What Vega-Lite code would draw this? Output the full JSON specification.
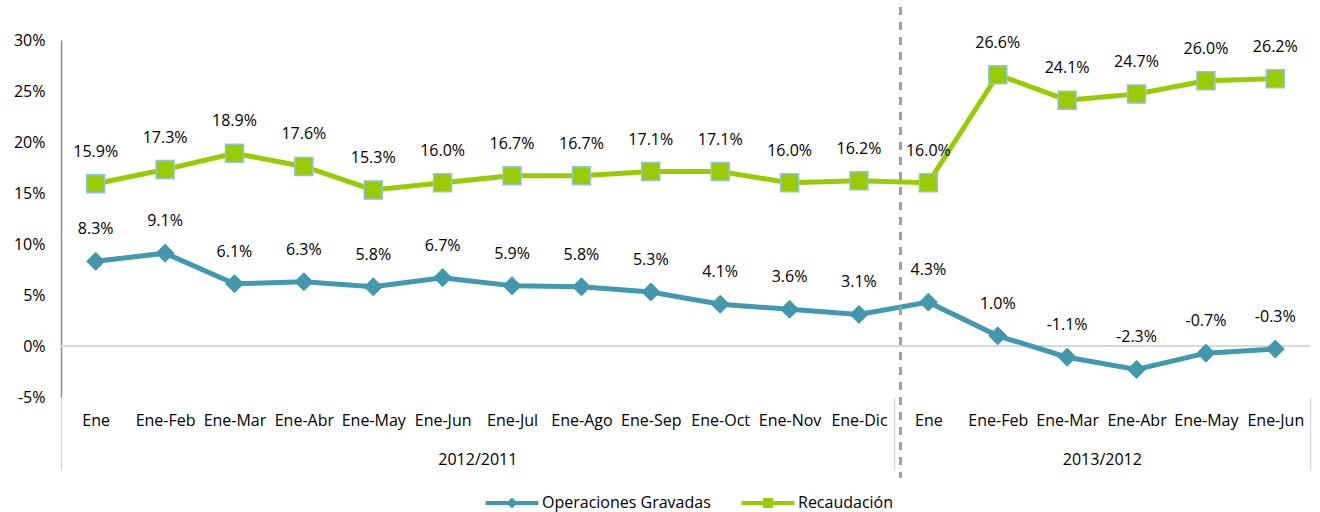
{
  "$schema": "https://vega.github.io/schema/vega-lite/v6.json",
  "width": 1249,
  "height": 357,
  "autosize": {"type": "none"},
  "padding": {"left": 61, "top": 40, "right": 10, "bottom": 115},
  "config": {
    "view": {"stroke": null},
    "font": "Open Sans",
    "locale": {"number": {"decimal": ".", "thousands": ",", "grouping": [3], "currency": ["$", ""], "minus": "-"}}
  },
  "datasets": {
    "s": [
      {"i": 0, "serie": "Operaciones Gravadas", "v": 0.083},
      {"i": 1, "serie": "Operaciones Gravadas", "v": 0.091},
      {"i": 2, "serie": "Operaciones Gravadas", "v": 0.061},
      {"i": 3, "serie": "Operaciones Gravadas", "v": 0.063},
      {"i": 4, "serie": "Operaciones Gravadas", "v": 0.058},
      {"i": 5, "serie": "Operaciones Gravadas", "v": 0.067},
      {"i": 6, "serie": "Operaciones Gravadas", "v": 0.059},
      {"i": 7, "serie": "Operaciones Gravadas", "v": 0.058},
      {"i": 8, "serie": "Operaciones Gravadas", "v": 0.053},
      {"i": 9, "serie": "Operaciones Gravadas", "v": 0.041},
      {"i": 10, "serie": "Operaciones Gravadas", "v": 0.036},
      {"i": 11, "serie": "Operaciones Gravadas", "v": 0.031},
      {"i": 12, "serie": "Operaciones Gravadas", "v": 0.043},
      {"i": 13, "serie": "Operaciones Gravadas", "v": 0.010},
      {"i": 14, "serie": "Operaciones Gravadas", "v": -0.011},
      {"i": 15, "serie": "Operaciones Gravadas", "v": -0.023},
      {"i": 16, "serie": "Operaciones Gravadas", "v": -0.007},
      {"i": 17, "serie": "Operaciones Gravadas", "v": -0.003},
      {"i": 0, "serie": "Recaudación", "v": 0.159},
      {"i": 1, "serie": "Recaudación", "v": 0.173},
      {"i": 2, "serie": "Recaudación", "v": 0.189},
      {"i": 3, "serie": "Recaudación", "v": 0.176},
      {"i": 4, "serie": "Recaudación", "v": 0.153},
      {"i": 5, "serie": "Recaudación", "v": 0.160},
      {"i": 6, "serie": "Recaudación", "v": 0.167},
      {"i": 7, "serie": "Recaudación", "v": 0.167},
      {"i": 8, "serie": "Recaudación", "v": 0.171},
      {"i": 9, "serie": "Recaudación", "v": 0.171},
      {"i": 10, "serie": "Recaudación", "v": 0.160},
      {"i": 11, "serie": "Recaudación", "v": 0.162},
      {"i": 12, "serie": "Recaudación", "v": 0.160},
      {"i": 13, "serie": "Recaudación", "v": 0.266},
      {"i": 14, "serie": "Recaudación", "v": 0.241},
      {"i": 15, "serie": "Recaudación", "v": 0.247},
      {"i": 16, "serie": "Recaudación", "v": 0.260},
      {"i": 17, "serie": "Recaudación", "v": 0.262}
    ]
  },
  "data": {"name": "s"},
  "layer": [
    {
      "mark": {"type": "rule", "color": "#d9d9d9", "strokeWidth": 1.5},
      "encoding": {
        "y": {"datum": 0, "type": "quantitative", "scale": {"domain": [-0.05, 0.3], "nice": false, "zero": false}}
      }
    },
    {
      "encoding": {
        "x": {
          "field": "i", "type": "quantitative",
          "scale": {"domain": [-0.5, 17.5], "nice": false, "zero": false},
          "axis": {
            "orient": "bottom",
            "values": [0, 1, 2, 3, 4, 5, 6, 7, 8, 9, 10, 11, 12, 13, 14, 15, 16, 17],
            "labelExpr": "['Ene','Ene-Feb','Ene-Mar','Ene-Abr','Ene-May','Ene-Jun','Ene-Jul','Ene-Ago','Ene-Sep','Ene-Oct','Ene-Nov','Ene-Dic','Ene','Ene-Feb','Ene-Mar','Ene-Abr','Ene-May','Ene-Jun'][datum.value]",
            "ticks": false, "domain": false, "grid": false,
            "labelPadding": 15, "labelFontSize": 16, "labelColor": "#000000",
            "labelFlush": false, "labelOverlap": false, "labelBound": false,
            "title": null
          }
        },
        "y": {
          "field": "v", "type": "quantitative",
          "scale": {"domain": [-0.05, 0.3], "nice": false, "zero": false},
          "axis": {
            "values": [-0.05, 0, 0.05, 0.1, 0.15, 0.2, 0.25, 0.3],
            "format": ".0%",
            "ticks": false, "grid": false,
            "domainColor": "#8c8c8c", "domainWidth": 1.5,
            "labelPadding": 16, "labelFontSize": 16, "labelColor": "#000000",
            "title": null
          }
        }
      },
      "layer": [
        {
          "mark": {"type": "line", "strokeWidth": 5},
          "encoding": {
            "color": {
              "field": "serie", "type": "nominal",
              "scale": {"domain": ["Operaciones Gravadas", "Recaudación"], "range": ["#4198AF", "#99CC00"]},
              "legend": {
                "orient": "none", "legendX": 443, "legendY": 455,
                "direction": "horizontal", "title": null, "padding": 0,
                "labelFontSize": 16, "labelColor": "#000000", "labelLimit": 400,
                "symbolSize": 144, "labelOffset": 22, "columnPadding": 30,
                "encode": {
                  "symbols": {
                    "update": {
                      "shape": {"signal": "datum.value === 'Recaudación' ? 'M-4.4,-0.35H4.4V0.35H-4.4Z M-0.85,-0.85H0.85V0.85H-0.85Z' : 'M-4.4,-0.35H4.4V0.35H-4.4Z M0,-0.9L0.9,0L0,0.9L-0.9,0Z'"},
                      "fill": {"scale": "color", "field": "value"},
                      "stroke": {"value": "transparent"},
                      "strokeWidth": {"value": 0},
                      "opacity": {"value": 1}
                    }
                  }
                }
              }
            }
          }
        },
        {
          "transform": [{"filter": "datum.serie == 'Operaciones Gravadas'"}],
          "mark": {"type": "point", "filled": true, "shape": "diamond", "size": 324, "opacity": 1, "fill": "#4198AF", "stroke": "#4198AF", "strokeWidth": 1}
        },
        {
          "transform": [{"filter": "datum.serie == 'Recaudación'"}],
          "mark": {"type": "point", "filled": true, "shape": "square", "size": 324, "opacity": 1, "fill": "#99CC00", "stroke": "#8EC3DD", "strokeWidth": 1.5}
        },
        {
          "mark": {"type": "text", "dy": -32, "fontSize": 16, "color": "#000000"},
          "encoding": {
            "text": {"field": "v", "type": "quantitative", "format": ".1%"}
          }
        }
      ]
    },
    {
      "mark": {"type": "rule", "color": "#a0a0a0", "strokeWidth": 2, "strokeDash": [8, 7]},
      "encoding": {
        "x": {
          "datum": 11.6, "type": "quantitative",
          "scale": {"domain": [-0.5, 17.5], "nice": false, "zero": false},
          "axis": {
            "orient": "bottom",
            "values": [-0.5, 5.5, 11.5, 14.5, 17.5],
            "labelExpr": "datum.value == 5.5 ? '2012/2011' : (datum.value == 14.5 ? '2013/2012' : '')",
            "domain": false, "grid": false, "ticks": true,
            "tickSize": 73, "tickColor": "#d9d9d9", "tickWidth": 1.5,
            "tickOpacity": {"condition": {"test": "datum.value == 5.5 || datum.value == 14.5", "value": 0}, "value": 1},
            "labelPadding": -19, "labelFontSize": 16, "labelColor": "#000000",
            "labelFlush": false, "labelOverlap": false, "labelBound": false,
            "title": null
          }
        },
        "y": {"datum": 0.3324, "type": "quantitative"},
        "y2": {"datum": -0.1294}
      }
    }
  ],
  "resolve": {"scale": {"x": "independent"}}
}
